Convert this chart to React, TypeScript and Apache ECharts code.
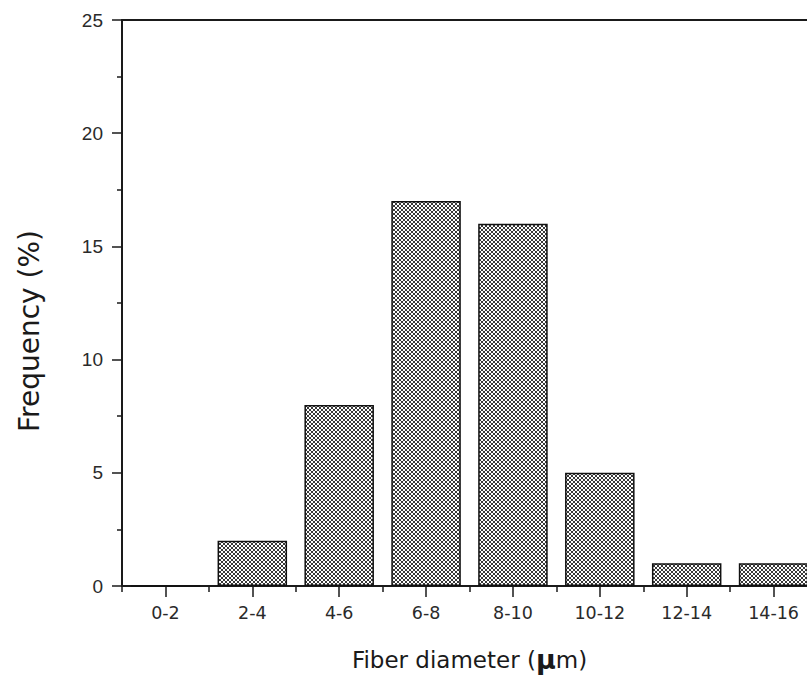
import React, { useEffect, useRef } from "react";
import * as echarts from "echarts";

const categories = ["0-2", "2-4", "4-6", "6-8", "8-10", "10-12", "12-14", "14-16"];
const frequency = [0, 2, 8, 17, 16, 5, 1, 1];
const yMin = 0;
const yMax = 25;
const yInterval = 5;

const tileSvg =
  "<svg xmlns='http://www.w3.org/2000/svg' width='4' height='4'>" +
  "<rect width='4' height='4' fill='white'/>" +
  "<path d='M0,0L4,4M4,0L0,4' stroke='%23222' stroke-width='0.9'/>" +
  "</svg>";
const tileUrl = "data:image/svg+xml;utf8," + tileSvg;

export default function App() {
  const ref = useRef<HTMLDivElement>(null);
  useEffect(() => {
    if (!ref.current) return;
    const chart = echarts.init(ref.current, null, { renderer: "svg" });
    const axisColor = "#1a1a1a";
    chart.setOption({
      animation: false,
      backgroundColor: "#ffffff",
      grid: {
        left: 122,
        top: 20,
        bottom: 93,
        width: 695,
        containLabel: false,
        outerBoundsMode: "none",
      },
      xAxis: [
        {
          type: "category",
          position: "bottom",
          data: categories,
          axisLine: { show: true, lineStyle: { color: axisColor, width: 2 } },
          axisTick: { show: true, alignWithLabel: false, length: 6, lineStyle: { color: axisColor, width: 1.5 } },
          axisLabel: {
            fontFamily: "DejaVu Sans",
            fontSize: 17.5,
            color: "#2a2a2a",
            margin: 18,
            interval: 0,
          },
          splitLine: { show: false },
          name: "Fiber diameter ({mu|\u00b5}m)",
          nameLocation: "middle",
          nameGap: 60,
          nameTextStyle: {
            fontFamily: "DejaVu Sans",
            fontSize: 23,
            color: "#1a1a1a",
            rich: {
              mu: { fontFamily: "DejaVu Sans", fontSize: 27, fontWeight: "bold", color: "#1a1a1a" },
            },
          },
        },
        {
          type: "category",
          position: "bottom",
          data: categories,
          axisLine: { show: false },
          axisTick: { show: true, alignWithLabel: true, length: 11, lineStyle: { color: axisColor, width: 1.5 } },
          axisLabel: { show: false },
          splitLine: { show: false },
        },
        {
          type: "category",
          position: "top",
          data: categories,
          axisLine: { show: true, lineStyle: { color: axisColor, width: 2 } },
          axisTick: { show: false },
          axisLabel: { show: false },
          splitLine: { show: false },
        },
      ],
      yAxis: {
        type: "value",
        min: yMin,
        max: yMax,
        interval: yInterval,
        axisLine: { show: true, lineStyle: { color: axisColor, width: 2 } },
        axisTick: { show: true, length: 10, lineStyle: { color: axisColor, width: 1.5 } },
        minorTick: { show: true, splitNumber: 2, length: 5, lineStyle: { color: axisColor, width: 1.5 } },
        axisLabel: {
          fontFamily: "Liberation Sans",
          fontSize: 19,
          color: "#2a2a2a",
          margin: 19,
        },
        splitLine: { show: false },
        name: "Frequency (%)",
        nameLocation: "middle",
        nameGap: 79,
        nameTextStyle: {
          fontFamily: "DejaVu Sans",
          fontSize: 28,
          color: "#1a1a1a",
          padding: [0, 56, 0, 0],
        },
      },
      series: [
        {
          type: "bar",
          xAxisIndex: 0,
          data: frequency,
          barCategoryGap: "20%",
          itemStyle: {
            color: {
              image: tileUrl,
              repeat: "repeat",
              imageWidth: 4,
              imageHeight: 4,
            },
            borderColor: "#111111",
            borderWidth: 1.5,
          },
        },
      ],
    });
    return () => chart.dispose();
  }, []);
  return <div ref={ref} style={{ width: 807, height: 679, position: "absolute", left: 0, top: 0 }} />;
}
